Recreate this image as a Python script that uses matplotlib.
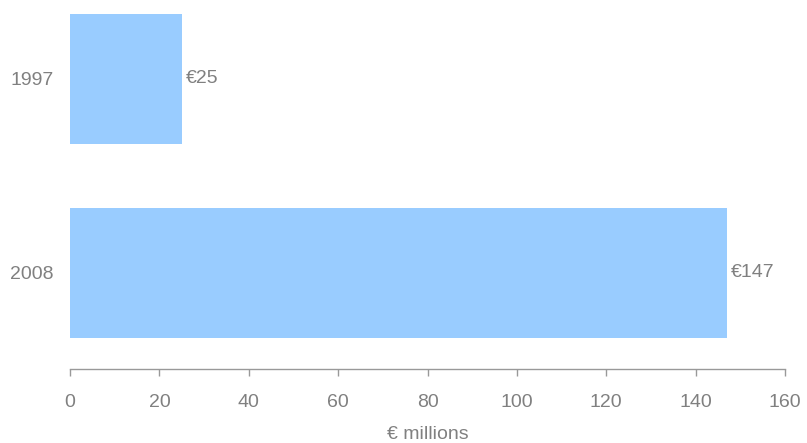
import matplotlib.pyplot as plt

# Data
years = ["1997", "2008"]
values = [25, 147]
value_labels = ["€25", "€147"]
x_ticks = [0, 20, 40, 60, 80, 100, 120, 140, 160]

plt.rcParams['font.family'] = ['Liberation Sans', 'DejaVu Sans']

BAR_COLOR = "#99ccff"
TEXT_COLOR = "#808080"
AXIS_COLOR = "#999999"

fig = plt.figure(figsize=(8.07, 4.43), dpi=100)
ax = fig.add_axes([70 / 807, 74 / 443, 715 / 807, 369 / 443])

pos = list(range(len(years)))
ax.barh(pos, values, height=0.67, color=BAR_COLOR, edgecolor="none")

for p, v, lab in zip(pos, values, value_labels):
    ax.annotate(lab, xy=(v, p), xytext=(3, 0), textcoords="offset points",
                ha="left", va="center", fontsize=14, color=TEXT_COLOR)

ax.set_xlim(0, 160)
ax.set_ylim(1.497, -0.405)
ax.set_xticks(x_ticks)
ax.set_yticks(pos)
ax.set_yticklabels(years)

for side in ("top", "right", "left"):
    ax.spines[side].set_visible(False)
ax.spines["bottom"].set_color(AXIS_COLOR)
ax.spines["bottom"].set_linewidth(1.0)

ax.tick_params(axis="x", direction="out", length=5, width=1, color=AXIS_COLOR,
               labelsize=14, labelcolor=TEXT_COLOR, pad=13)
ax.tick_params(axis="y", length=0, labelsize=14, labelcolor=TEXT_COLOR, pad=12)

ax.set_xlabel("€ millions", fontsize=14, color=TEXT_COLOR, labelpad=11)

fig.savefig("out.png", dpi=100)
